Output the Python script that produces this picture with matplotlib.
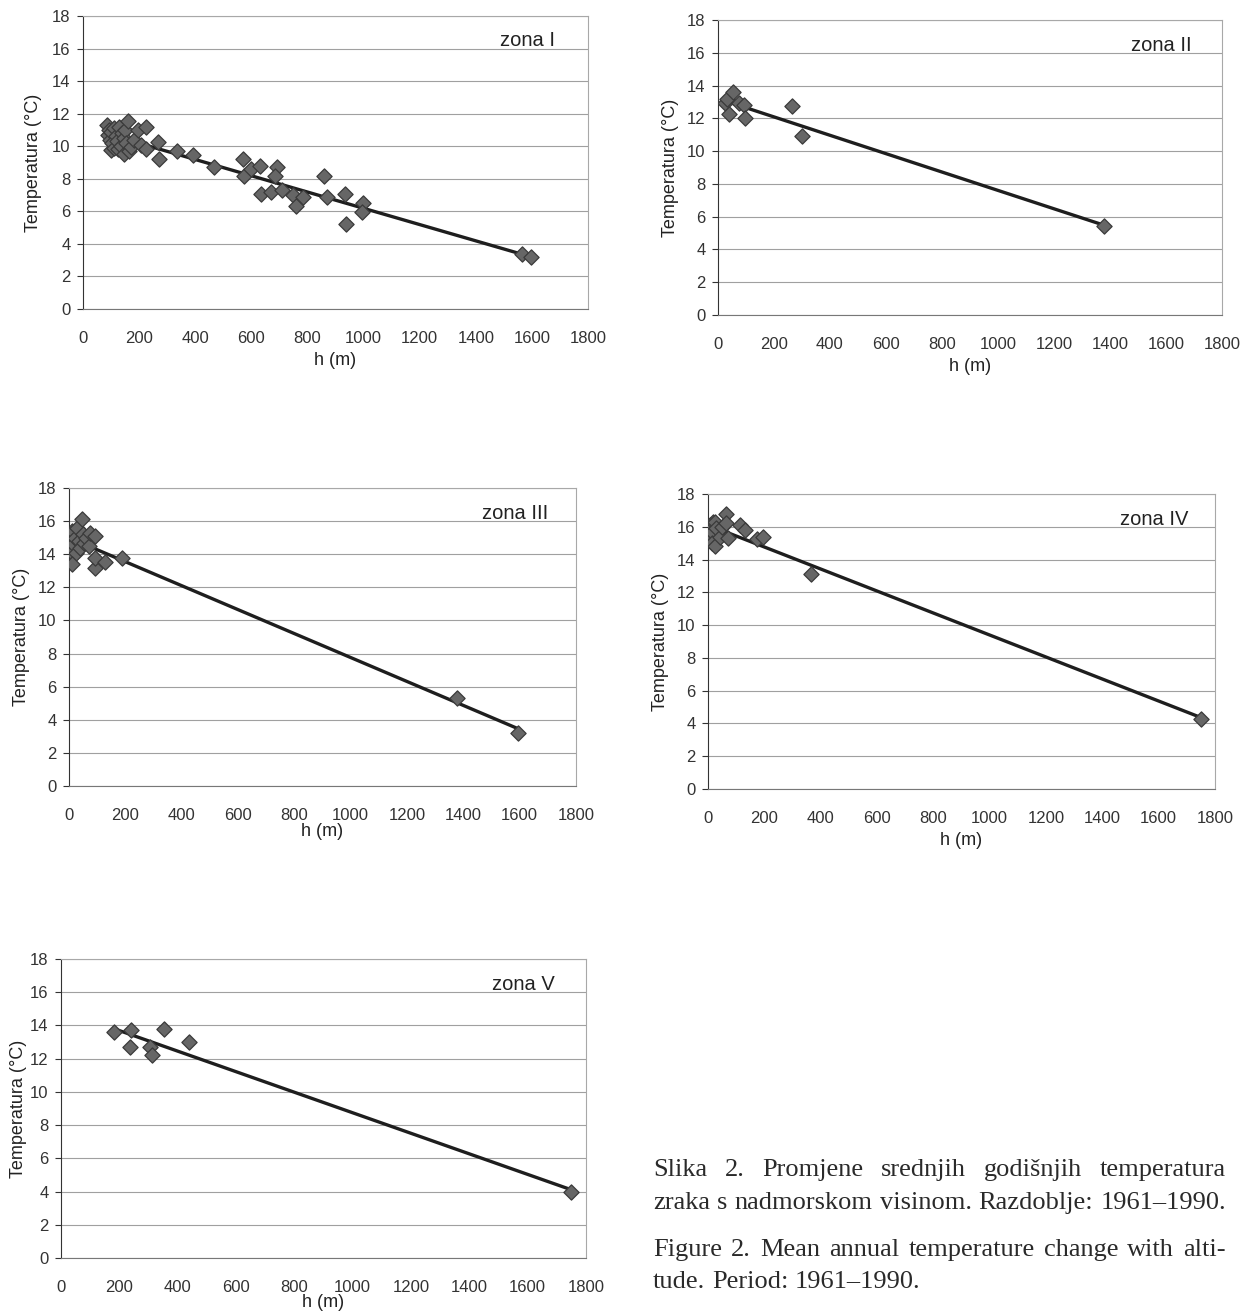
import numpy as np
import matplotlib
matplotlib.use("Agg")
import matplotlib.pyplot as plt

plt.rcParams['font.family'] = ['Liberation Sans', 'DejaVu Sans']

# zona I
h1 = [85, 88, 92, 95, 100, 100, 105, 110, 112, 118, 120, 125, 130, 135, 140, 145, 147, 150,
      155, 159, 165, 171, 180, 195, 205, 225, 225, 266, 272,
      335, 391, 468, 569, 575, 599, 632, 691, 684, 634, 670, 708, 747, 759, 783, 860, 870,
      934, 937, 997, 994, 1565, 1597]
t1 = [11.3, 10.7, 11.0, 10.4, 9.75, 10.9, 10.2, 11.1, 9.9, 10.6, 10.3, 9.8, 11.2, 10.0, 10.8,
      10.5, 9.55, 11.0, 10.2, 11.55, 9.7, 9.96, 10.4, 11.0, 10.1, 11.2, 9.86, 10.26, 9.24,
      9.7, 9.45, 8.7, 9.24, 8.2, 8.57, 8.77, 8.73, 8.2, 7.05, 7.2, 7.3, 6.99, 6.3, 6.89, 8.16,
      6.85, 7.04, 5.2, 6.54, 5.97, 3.37, 3.19]

# zona II
h2 = [25, 31, 52, 40, 76, 93, 96, 263, 301, 1379]
t2 = [12.92, 13.2, 13.6, 12.26, 12.95, 12.8, 12.0, 12.77, 10.94, 5.43]

# zona III
h3 = [5, 10, 15, 20, 25, 30, 35, 40, 45, 50, 55, 60, 70, 75, 9, 92, 92, 92, 128, 187, 1377, 1594]
t3 = [14.2, 15.4, 14.6, 15.0, 14.1, 15.6, 14.8, 14.4, 16.15, 15.2, 14.7, 15.0, 14.5, 15.3,
      13.4, 15.1, 13.15, 13.75, 13.55, 13.75, 5.31, 3.2]

# zona IV
h4 = [5, 8, 13, 13, 18, 25, 25, 30, 43, 50, 64, 64, 72, 114, 131, 173, 194, 365, 1750]
t4 = [15.2, 16.1, 15.7, 15.0, 16.3, 16.3, 14.8, 15.9, 15.4, 16.0, 16.78, 16.2, 15.3, 16.1,
      15.8, 15.23, 15.4, 13.1, 4.27]

# zona V
h5 = [181, 241, 236, 305, 313, 352, 439, 1749]
t5 = [13.62, 13.74, 12.72, 12.72, 12.25, 13.8, 13.0, 3.97]

zones = ["zona I", "zona II", "zona III", "zona IV", "zona V"]
data = [(h1, t1), (h2, t2), (h3, t3), (h4, t4), (h5, t5)]

# axes rectangles in pixels: left, top, right, bottom
W, H = 1249, 1312
rects = [(83, 16, 588, 309), (718, 20, 1222, 315), (69, 488, 576, 786),
         (708, 494, 1215, 789), (61, 959, 586, 1258)]
xlab_pad = [4, 4, 0, 4, -1]
ylab_pad = [7, 6, 6, 6, 2]

fig = plt.figure(figsize=(W / 100, H / 100), dpi=100)

for name, (h, t), (l, tp, r, b), lp, yp in zip(zones, data, rects, xlab_pad, ylab_pad):
    ax = fig.add_axes([l / W, 1 - b / H, (r - l) / W, (b - tp) / H])
    h = np.array(h)
    t = np.array(t)
    k, n = np.polyfit(h, t, 1)
    xs = np.array([h.min(), h.max()])
    ax.plot(xs, k * xs + n, color='#1e1e1e', lw=2.4, zorder=3)
    ax.scatter(h, t, marker='D', s=60, facecolor='#666666', edgecolor='#3a3a3a',
               linewidths=0.9, zorder=4)
    ax.set_xlim(0, 1800)
    ax.set_ylim(0, 18)
    ax.set_xticks(np.arange(0, 1801, 200))
    ax.set_yticks(np.arange(0, 19, 2))
    ax.yaxis.grid(True, color='#a0a0a0', lw=0.8)
    ax.set_axisbelow(True)
    for s in ['top', 'right']:
        ax.spines[s].set_color('#a8a8a8')
        ax.spines[s].set_linewidth(0.8)
    ax.spines['left'].set_color('#333333')
    ax.spines['left'].set_linestyle((0, (2, 1)))
    ax.spines['bottom'].set_color('#777777')
    ax.tick_params(axis='x', length=0, pad=16, labelsize=12, colors='#333333')
    ax.tick_params(axis='y', length=4, width=0.8, pad=5, labelsize=12, colors='#333333')
    ax.set_xlabel("h (m)", fontsize=13, labelpad=lp, color='#222222')
    ax.set_ylabel("Temperatura (°C)", fontsize=13, labelpad=yp, color='#222222')
    ax.text(0.88, 0.915, name, transform=ax.transAxes, ha='center', va='center',
            fontsize=14.5, color='#222222')

# caption, justified lines
caption = [
    ("Slika 2. Promjene srednjih godišnjih temperatura", 1170, True),
    ("zraka s nadmorskom visinom. Razdoblje: 1961–1990.", 1203, True),
    ("Figure 2. Mean annual temperature change with alti-", 1250, True),
    ("tude. Period: 1961–1990.", 1282, False),
]
x0, x1 = 653, 1226
renderer = fig.canvas.get_renderer()
for line, y, justify in caption:
    words = line.split(" ")
    texts = [fig.text(0, 1 - y / H, w, fontsize=19, family='Liberation Serif',
                      color='#2a2a2a', va='center', ha='left') for w in words]
    widths = [tx.get_window_extent(renderer).width for tx in texts]
    space = renderer.points_to_pixels(19) * 0.25
    if justify:
        space = (x1 - x0 - sum(widths)) / (len(words) - 1)
    x = x0
    for tx, w in zip(texts, widths):
        tx.set_x(x / W)
        x += w + space

fig.savefig("out.png", dpi=100)
